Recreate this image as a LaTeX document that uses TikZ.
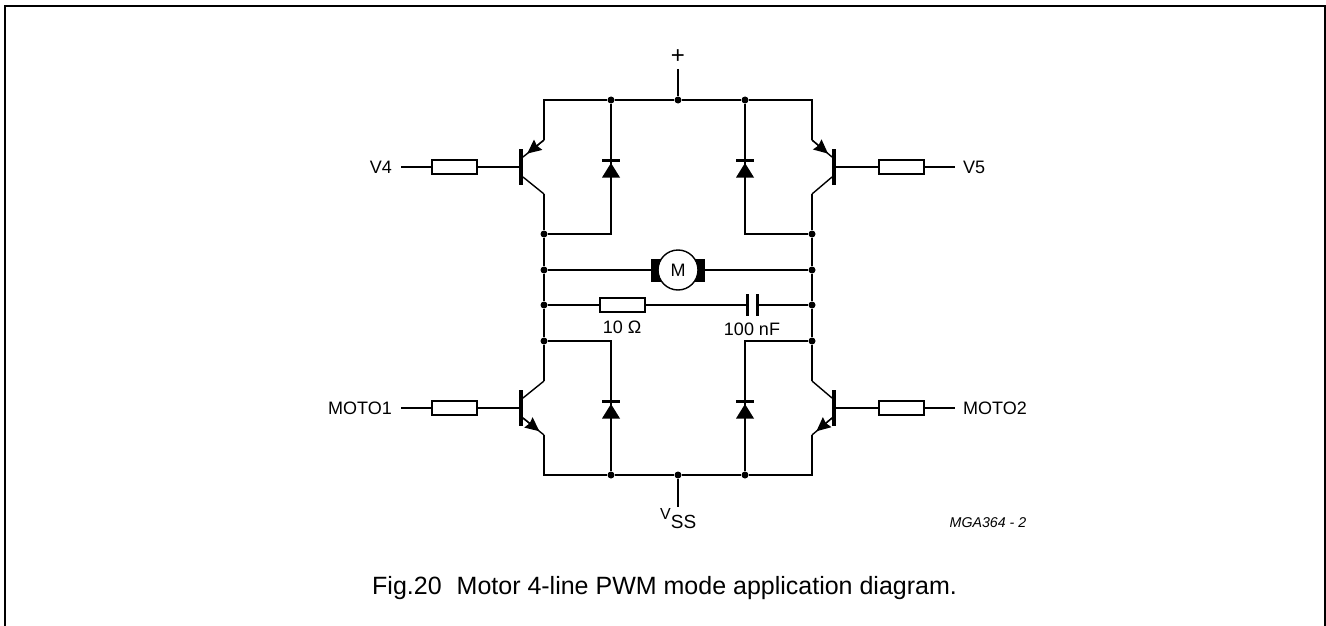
\documentclass[tikz,border=0pt]{standalone}
\usepackage{fontspec}
\setmainfont{Liberation Sans}
\usetikzlibrary{arrows.meta,calc}
\tikzset{
	wire/.style={line width=1.4pt,line join=miter},
	dot/.style={circle,fill=black,inner sep=0pt,minimum size=7pt},
	resistor/.style={draw,line width=1.4pt,fill=white,inner sep=0pt,minimum width=45pt,minimum height=14pt},
	basebar/.style={fill=black,inner sep=0pt,minimum width=3.5pt,minimum height=36pt},
	label/.style={inner sep=0pt,font=\fontsize{18}{22}\selectfont},
	diode/.pic={
		\fill (-9,-1.5) rectangle (9,1.5);
		\fill (0,3) -- (9,17.5) -- (-9,17.5) -- cycle;
	}
}
\begin{document}
\begin{tikzpicture}[x=1pt,y=-1pt]
	\useasboundingbox (0,0) rectangle (1326,626);
	\draw [line width=1.6pt] (5,6) rectangle (1325,640);

	% supply and ground
	\node (plus) [label,font=\fontsize{24}{26}\selectfont] at (678,57) {+};
	\coordinate (plusEnd) at (678,69);
	\node (vss) [label,anchor=base west] at (660,519) {\fontsize{16}{20}\selectfont V\raisebox{-9.5pt}{\fontsize{19}{20}\selectfont SS}};
	\coordinate (vssEnd) at (678,507);
	\node (topMid) [dot] at (678,100) {};
	\node (botMid) [dot] at (678,475) {};
	\node (topL) [dot] at (611,100) {};
	\node (topR) [dot] at (745,100) {};
	\node (botL) [dot] at (611,475) {};
	\node (botR) [dot] at (745,475) {};

	% rails
	\foreach \y/\n in {234/a,270/b,305/c,341/d} {
		\node (left\n) [dot] at (544,\y) {};
		\node (right\n) [dot] at (812,\y) {};
	}
	\draw [wire] (plusEnd) -- (topMid);
	\draw [wire] (botMid) -- (vssEnd);
	\draw [wire] (topL) -- (topMid) -- (topR);
	\draw [wire] (botL) -- (botMid) -- (botR);
	\draw [wire] (lefta) -- (leftb) -- (leftc) -- (leftd);
	\draw [wire] (righta) -- (rightb) -- (rightc) -- (rightd);

	% diode branches
	\draw [wire] (topL) |- (lefta);
	\draw [wire] (topR) |- (righta);
	\draw [wire] (botL) |- (leftd);
	\draw [wire] (botR) |- (rightd);
	\foreach \x/\y in {611/160,745/160,611/401,745/401}
		\pic at (\x,\y) {diode};

	% transistors: name, base x, base y, rail x, emitter side
	\foreach \name/\bx/\by/\rail/\sx/\sy in {qa/521/167/544/1/-1,qb/834/167/812/-1/-1,qc/521/408/544/1/1,qd/834/408/812/-1/1} {
		\node (\name) [basebar] at (\bx,\by) {};
		\coordinate (\name em) at (\rail,\by+\sy*27);
		\coordinate (\name ei) at (\bx+\sx*2,\by+\sy*10);
		\coordinate (\name co) at (\rail,\by-\sy*27);
		\coordinate (\name ci) at (\bx+\sx*2,\by-\sy*10);
		\draw [wire] (\name em) -- (\name ei);
		\draw [wire] (\name co) -- (\name ci);
	}
	\foreach \name in {qa,qb}
		\draw [wire,-{Stealth[length=14pt,width=13pt,inset=1.5pt]}] (\name em) -- ($(\name em)!0.8!(\name ei)$);
	\foreach \name in {qc,qd}
		\draw [wire,-{Stealth[length=14pt,width=13pt,inset=1.5pt]}] (\name ei) -- ($(\name ei)!0.78!(\name em)$);

	\draw [wire] (topL) -- (544,100) -- (qaem);
	\draw [wire] (topR) -- (812,100) -- (qbem);
	\draw [wire] (qaco) -- (lefta);
	\draw [wire] (qbco) -- (righta);
	\draw [wire] (leftd) -- (qcco);
	\draw [wire] (rightd) -- (qdco);
	\draw [wire] (botL) -- (544,475) -- (qcem);
	\draw [wire] (botR) -- (812,475) -- (qdem);

	% inputs
	\foreach \name/\txt/\lx/\y/\rx/\q in {ra/V4/454.5/167/401/qa,rc/MOTO1/454.5/408/401/qc} {
		\node (\name) [resistor] at (\lx,\y) {};
		\node (\name t) [label,anchor=east] at (\rx-9,\y) {\txt};
		\coordinate (\name e) at (\rx,\y);
		\draw [wire] (\name e) -- (\name);
		\draw [wire] (\name) -- (\q);
	}
	\foreach \name/\txt/\lx/\y/\rx/\q in {rb/V5/901.5/167/955/qb,rd/MOTO2/901.5/408/955/qd} {
		\node (\name) [resistor] at (\lx,\y) {};
		\node (\name t) [label,anchor=west] at (\rx+8,\y) {\txt};
		\coordinate (\name e) at (\rx,\y);
		\draw [wire] (\name) -- (\name e);
		\draw [wire] (\q) -- (\name);
	}

	% motor
	\node (brushL) [fill=black,inner sep=0pt,minimum width=14pt,minimum height=23pt] at (658,270) {};
	\node (brushR) [fill=black,inner sep=0pt,minimum width=14pt,minimum height=23pt] at (698,270) {};
	\node (motor) [circle,draw,line width=1.4pt,fill=white,inner sep=0pt,minimum size=40pt,font=\fontsize{18}{22}\selectfont] at (678,270) {M};
	\draw [wire] (leftb) -- (brushL);
	\draw [wire] (brushR) -- (rightb);

	% snubber
	\node (rsnub) [resistor] at (622.5,305) {};
	\coordinate (capL) at (747,305);
	\coordinate (capR) at (757,305);
	\draw [wire] (leftc) -- (rsnub);
	\draw [wire] (rsnub) -- (capL);
	\draw [wire] (capR) -- (rightc);
	\draw [line width=3pt] (747,294) -- (747,316);
	\draw [line width=3pt] (757,294) -- (757,316);
	\node (rval) [label] at (622,327) {10 Ω};
	\node (cval) [label] at (752,329) {100 nF};

	\node (code) [inner sep=0pt,font=\fontsize{14.2}{17}\selectfont\itshape] at (988,523) {MGA364 - 2};
	\node (caption) [inner sep=0pt,anchor=west,font=\fontsize{25}{28}\selectfont] at (372,588) {Fig.20\hspace{0.6em}Motor 4-line PWM mode application diagram.};
\end{tikzpicture}
\end{document}
